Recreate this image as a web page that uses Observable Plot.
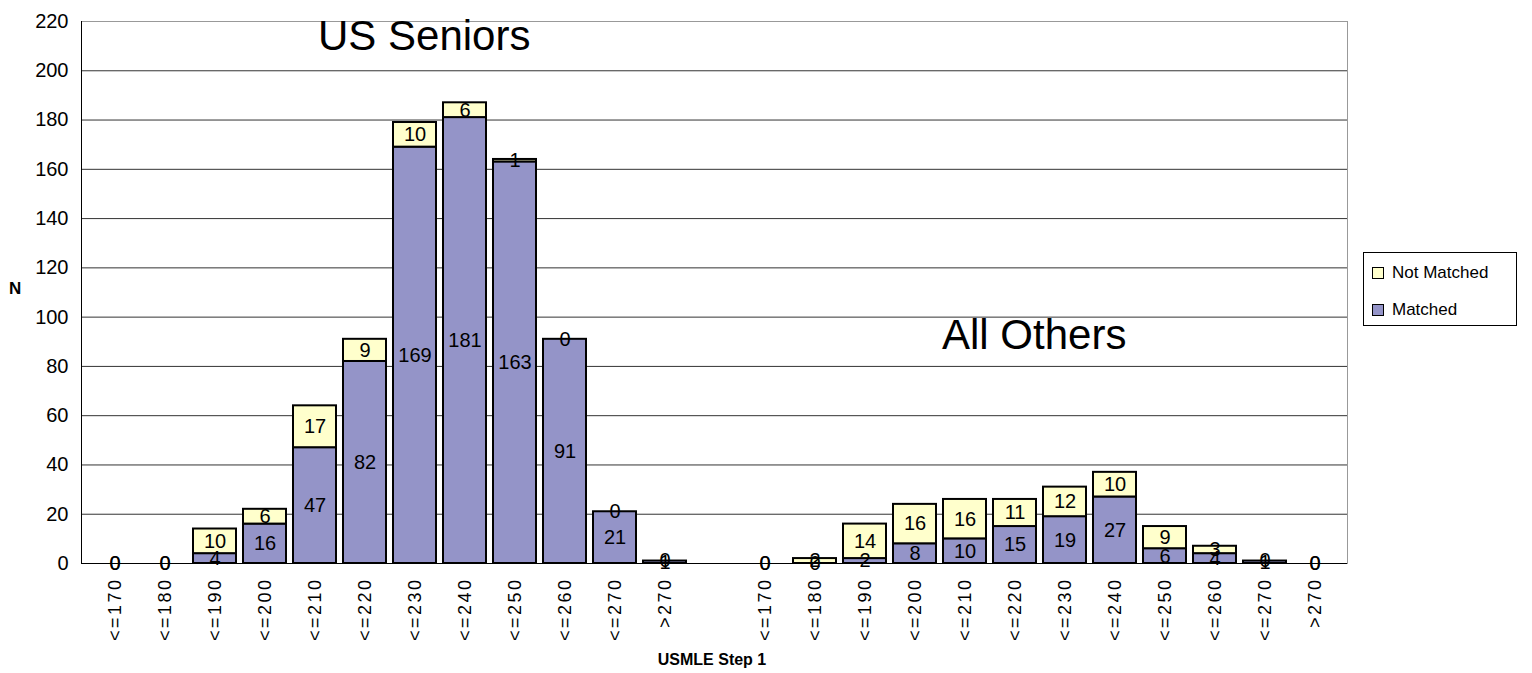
<!DOCTYPE html>
<html><head><meta charset="utf-8">
<script src="https://cdn.jsdelivr.net/npm/d3@7"></script>
<script src="https://cdn.jsdelivr.net/npm/@observablehq/plot@0.6"></script>
<style>
body{margin:0;background:#fff;font-family:"Liberation Sans",Arial,sans-serif;}
#wrap{position:relative;width:1532px;height:673px;overflow:hidden;}
.ann{position:absolute;white-space:nowrap;color:#000;line-height:1;}
#legend{position:absolute;left:1363px;top:252px;width:154px;height:74px;border:1px solid #000;box-sizing:border-box;background:#fff;}
.li{position:absolute;left:8px;font-size:17px;line-height:1;display:flex;align-items:center;}
.sw{width:10px;height:10px;border:1.5px solid #000;margin-right:8px;}
</style></head>
<body><div id="wrap"></div>
<script>
const bins = ["<=170","<=180","<=190","<=200","<=210","<=220","<=230","<=240","<=250","<=260","<=270",">270"];
const groups = ["US Seniors","All Others"];
const statuses = ["Matched","Not Matched"];
const statusColors = ["#9494C8","#FFFFCC"];
const usMatched = [0,0,4,16,47,82,169,181,163,91,21,1];
const usNotMatched = [0,0,10,6,17,9,10,6,1,0,0,0];
const otherMatched = [0,0,2,8,10,15,19,27,6,4,1,0];
const otherNotMatched = [0,2,14,16,16,11,12,10,9,3,0,0];
const yTicks = [0,20,40,60,80,100,120,140,160,180,200,220];

const series = {
  "US Seniors": [usMatched, usNotMatched],
  "All Others": [otherMatched, otherNotMatched]
};
const rows = [];
for (const g of groups) {
  bins.forEach((b, i) => {
    statuses.forEach((s, j) => {
      rows.push({key: g + "|" + b, status: s, value: series[g][j][i]});
    });
  });
}
const domain = [...bins.map(b => "US Seniors|" + b), "gap", ...bins.map(b => "All Others|" + b)];

const chart = Plot.plot({
  width: 1532, height: 673,
  marginLeft: 81, marginRight: 185, marginTop: 21, marginBottom: 110,
  style: {fontFamily: "'Liberation Sans', Arial, sans-serif", fontSize: "17px", background: "white", color: "black"},
  x: {domain, padding: 0.15, label: null},
  y: {domain: [0, 220], label: null},
  color: {domain: statuses, range: statusColors},
  marks: [
    Plot.gridY(yTicks, {stroke: "#333", strokeOpacity: 1}),
    Plot.frame({stroke: "#999"}),
    Plot.barY(rows, {x: "key", y: "value", fill: "status", stroke: "black", strokeWidth: 2}),
    Plot.ruleY([0], {stroke: "black", strokeWidth: 1.2}),
    Plot.frame({anchor: "left", stroke: "black"}),
    Plot.axisY({ticks: yTicks, tickSize: 0, tickPadding: 13, fontSize: 20}),
    Plot.axisX({tickSize: 0, tickRotate: -90, tickPadding: 14, fontSize: 18,
      tickFormat: k => k === "gap" ? "" : k.split("|")[1]}),
    Plot.text(rows, Plot.stackY({x: "key", y: "value", z: "status", text: "value", fontSize: 20, fill: "black"}))
  ]
});
const wrap = document.getElementById("wrap");
wrap.appendChild(chart);
d3.select(chart).selectAll('[aria-label="x-axis tick label"] text').attr("letter-spacing", "2.5px");

function ann(text, css) {
  const d = document.createElement("div");
  d.className = "ann";
  d.textContent = text;
  Object.assign(d.style, css);
  wrap.appendChild(d);
}
ann(groups[0], {left: "318px", top: "15px", fontSize: "42px"});
ann(groups[1], {left: "942px", top: "314px", fontSize: "42px"});
ann("N", {left: "9px", top: "280px", fontSize: "17px", fontWeight: "bold"});
ann("USMLE Step 1", {left: "712px", top: "652px", fontSize: "16px", fontWeight: "bold", transform: "translateX(-50%)"});

const legend = document.createElement("div");
legend.id = "legend";
[["Not Matched", statusColors[1], 11], ["Matched", statusColors[0], 48]].forEach(([t, c, top]) => {
  const li = document.createElement("div");
  li.className = "li";
  li.style.top = top + "px";
  const sw = document.createElement("div");
  sw.className = "sw";
  sw.style.background = c;
  li.appendChild(sw);
  li.appendChild(document.createTextNode(t));
  legend.appendChild(li);
});
wrap.appendChild(legend);
</script>
</body></html>
